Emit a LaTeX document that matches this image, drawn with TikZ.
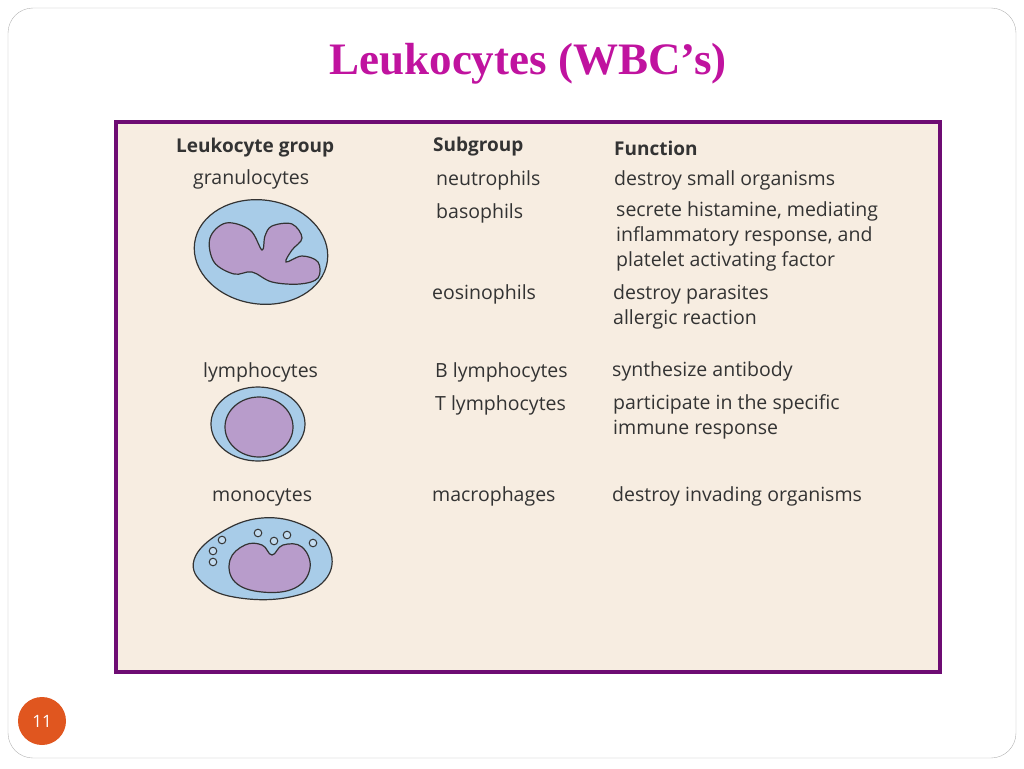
\documentclass[tikz,border=0pt]{standalone}
\usepackage{fontspec}
\setmainfont{Liberation Serif}
\newfontfamily\cellfont{Open Sans}
\definecolor{titlemag}{HTML}{C0139F}
\definecolor{boxpurple}{HTML}{6E0C73}
\definecolor{boxbg}{HTML}{F7EDE1}
\definecolor{cellblue}{HTML}{A8CCE8}
\definecolor{nucpurple}{HTML}{B89CCB}
\definecolor{pageorange}{HTML}{E0561F}
\definecolor{txtgray}{HTML}{333333}
\tikzset{
  lbl/.style={anchor=west, font=\cellfont\fontsize{19.5}{25}\selectfont, text=txtgray, inner sep=0pt},
  hdr/.style={lbl, font=\cellfont\bfseries\fontsize{19}{25}\selectfont},
  lines/.style={lbl, align=left, font=\cellfont\fontsize{19.5}{25}\selectfont, anchor=north west},
  cellwall/.style={draw=black!80, line width=1.2pt, fill=cellblue},
  nucleus/.style={draw=black!80, line width=1.2pt, fill=nucpurple},
}
\begin{document}
\begin{tikzpicture}[x=1pt,y=-1pt]
\useasboundingbox (0,0) rectangle (1024,768);
% slide frame
\draw[gray!60, rounded corners=25pt] (8,8) rectangle (1016,758);
\node[font=\bfseries\fontsize{45}{48}\selectfont, text=titlemag] (title) at (528,64) {Leukocytes (WBC’s)};
\draw[boxpurple, line width=3.5pt, fill=boxbg] (116,122) rectangle (940,672);
\node[circle, fill=pageorange, minimum size=48pt, inner sep=0pt, text=white, font=\cellfont\fontsize{17}{17}\selectfont] (page) at (42,721) {11};
% headers
\node[hdr] (hgroup) at (176,148) {Leukocyte group};
\node[hdr] (hsub) at (433,147) {Subgroup};
\node[hdr] (hfun) at (614,148) {Function};
% groups
\node[lbl] (gran) at (193,179) {granulocytes};
\node[lbl] (lymph) at (203,372) {lymphocytes};
\node[lbl] (mono) at (212,497) {monocytes};
% subgroups
\node[lbl] (neut) at (436,180) {neutrophils};
\node[lbl] (baso) at (436,213) {basophils};
\node[lbl] (eosi) at (432,294) {eosinophils};
\node[lbl] (blym) at (435,372) {B lymphocytes};
\node[lbl] (tlym) at (435,405) {T lymphocytes};
\node[lbl] (macro) at (432,496) {macrophages};
% functions
\node[lbl] (fneut) at (614,180) {destroy small organisms};
\node[lines] (fbaso) at (616,201) {secrete histamine, mediating\\inflammatory response, and\\platelet activating factor};
\node[lines] (feosi) at (613,284) {destroy parasites\\allergic reaction};
\node[lbl] (fblym) at (612,371) {synthesize antibody};
\node[lines] (ftlym) at (613,394) {participate in the specific\\immune response};
\node[lbl] (fmacro) at (612,496) {destroy invading organisms};
% granulocyte
\draw[cellwall, rotate around={-8:(261,252)}] (261,252) ellipse (67pt and 52pt);
\draw[nucleus] plot[smooth cycle, tension=0.6] coordinates {(210,238) (226,223) (250,230) (262,250) (265,236) (272,226) (292,224) (302,238) (292,250) (286,262) (302,256) (318,262) (318,278) (300,284) (272,282) (252,272) (234,274) (214,262)};
% lymphocyte
\draw[cellwall] (258,424) ellipse (47pt and 37pt);
\draw[nucleus] (259,427) ellipse (34pt and 30pt);
% monocyte
\draw[cellwall] plot[smooth cycle, tension=0.7] coordinates {(194,560) (220,533) (262,518) (305,526) (330,550) (325,580) (290,597) (240,598) (205,585)};
\draw[nucleus] plot[smooth cycle, tension=0.7] coordinates {(230,560) (245,545) (262,545) (272,555) (283,545) (302,547) (310,568) (295,588) (262,592) (235,582)};
\foreach \dx/\dy in {222/540, 213/551, 213/562, 258/533, 274/541, 287/535, 313/543}
  \draw[black!80, line width=1pt, fill=cellblue!70!white] (\dx,\dy) circle (3.8pt);
\end{tikzpicture}
\end{document}
